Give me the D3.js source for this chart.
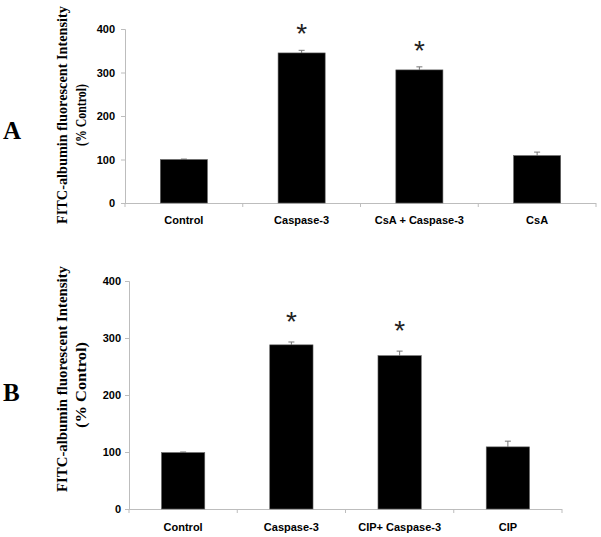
<!DOCTYPE html>
<html>
<head>
<meta charset="utf-8">
<script src="https://cdn.jsdelivr.net/npm/d3@7"></script>
<style>
  html, body { margin: 0; padding: 0; background: #fff; }
  svg { display: block; }
</style>
</head>
<body>
<svg id="chart" width="601" height="537"></svg>
<script>
// ---- Data ----
const categoriesA = ["Control", "Caspase-3", "CsA + Caspase-3", "CsA"];
const valuesA = [100, 345, 306, 109];
const errorsA = [1, 6, 7, 8];
const significantA = [false, true, true, false];

const categoriesB = ["Control", "Caspase-3", "CIP+ Caspase-3", "CIP"];
const valuesB = [99, 288, 269, 109];
const errorsB = [1, 5, 8, 10];
const significantB = [false, true, true, false];

const yTicks = [0, 100, 200, 300, 400];
const yLabelLine1 = "FITC-albumin fluorescent Intensity";
const yLabelLine2 = "(% Control)";

// ---- Drawing ----
const svg = d3.select("#chart");
const axisColor = "#bdbdbd";

function drawPanel(p) {
  const g = svg.append("g");
  const x = d3.scaleBand().domain(p.categories).range([p.x0, p.x1])
    .paddingInner(0.6).paddingOuter(0.3);
  const y = d3.scaleLinear().domain([0, 400]).range([p.y0, p.y1]);

  // y axis
  const yAxis = g.append("g").attr("transform", `translate(${p.x0},0)`)
    .call(d3.axisLeft(y).tickValues(yTicks).tickSize(4).tickPadding(p.tickPad));
  yAxis.select(".domain").attr("stroke", axisColor);
  yAxis.selectAll(".tick line").attr("stroke", axisColor);
  yAxis.selectAll(".tick text")
    .attr("fill", "#000")
    .style("font-family", "'Liberation Sans', Arial, sans-serif")
    .style("font-weight", "bold")
    .style("font-size", "11px");

  // x axis line + boundary ticks
  g.append("line").attr("x1", p.x0).attr("x2", p.x1)
    .attr("y1", p.y0 + 0.5).attr("y2", p.y0 + 0.5).attr("stroke", axisColor);
  const step = x.step();
  const bounds = d3.range(p.categories.length + 1).map(i => p.x0 + i * step);
  g.selectAll(".xb").data(bounds).join("line")
    .attr("x1", d => d).attr("x2", d => d)
    .attr("y1", p.y0).attr("y2", p.y0 + 4).attr("stroke", axisColor);

  // category labels
  g.selectAll(".cat").data(p.categories).join("text")
    .attr("x", d => x(d) + x.bandwidth() / 2)
    .attr("y", p.catY)
    .attr("text-anchor", "middle")
    .style("font-family", "'Liberation Sans', Arial, sans-serif")
    .style("font-weight", "bold")
    .style("font-size", "11px")
    .text(d => d);

  const data = p.categories.map((c, i) => ({ c, v: p.values[i], e: p.errors[i], s: p.sig[i] }));

  // error bars (upper half visible)
  const eg = g.selectAll(".err").data(data).join("g");
  eg.append("line")
    .attr("x1", d => x(d.c) + x.bandwidth() / 2).attr("x2", d => x(d.c) + x.bandwidth() / 2)
    .attr("y1", d => y(d.v)).attr("y2", d => y(d.v + d.e))
    .attr("stroke", "#777").attr("stroke-width", 1);
  eg.append("line")
    .attr("x1", d => x(d.c) + x.bandwidth() / 2 - 3).attr("x2", d => x(d.c) + x.bandwidth() / 2 + 3)
    .attr("y1", d => y(d.v + d.e)).attr("y2", d => y(d.v + d.e))
    .attr("stroke", "#777").attr("stroke-width", 1);

  // bars
  g.selectAll(".bar").data(data).join("rect")
    .attr("x", d => x(d.c))
    .attr("y", d => y(d.v))
    .attr("width", x.bandwidth())
    .attr("height", d => y(0) - y(d.v))
    .attr("fill", "#000")
    .attr("stroke", "#666").attr("stroke-width", 0.6);

  // asterisks
  g.selectAll(".ast").data(data.filter(d => d.s)).join("text")
    .attr("x", d => x(d.c) + x.bandwidth() / 2)
    .attr("y", d => y(d.v + d.e) - p.astGap)
    .attr("text-anchor", "middle")
    .style("font-family", "'Liberation Sans', Arial, sans-serif")
    .style("font-size", "28px")
    .attr("fill", "#222")
    .text("*");

  // y label (two lines, rotated)
  const lab = g.append("g").attr("transform", `translate(${p.labX},${p.labY}) rotate(-90)`);
  lab.append("text").attr("x", 0).attr("y", 0)
    .attr("text-anchor", "middle")
    .attr("textLength", p.lab1Len).attr("lengthAdjust", "spacingAndGlyphs")
    .style("font-family", "'Liberation Serif', 'Times New Roman', serif")
    .style("font-weight", "bold").style("font-size", "14px")
    .text(yLabelLine1);
  lab.append("text").attr("x", p.lab2Shift).attr("y", 19)
    .attr("text-anchor", "middle")
    .attr("textLength", p.lab2Len).attr("lengthAdjust", "spacingAndGlyphs")
    .style("font-family", "'Liberation Serif', 'Times New Roman', serif")
    .style("font-weight", "bold").style("font-size", "14px")
    .text(yLabelLine2);

  // panel letter
  g.append("text").attr("x", 3).attr("y", p.letterY)
    .style("font-family", "'Liberation Serif', 'Times New Roman', serif")
    .style("font-weight", "bold").style("font-size", "25px")
    .text(p.letter);
}

drawPanel({
  categories: categoriesA, values: valuesA, errors: errorsA, sig: significantA,
  x0: 125, x1: 596, y0: 203, y1: 29, tickPad: 6, catY: 224, astGap: 7,
  labX: 67, labY: 115, lab1Len: 218, lab2Len: 62, lab2Shift: 0,
  letter: "A", letterY: 139
});

drawPanel({
  categories: categoriesB, values: valuesB, errors: errorsB, sig: significantB,
  x0: 129, x1: 562, y0: 509, y1: 281, tickPad: 4, catY: 531, astGap: 11,
  labX: 67, labY: 379, lab1Len: 226, lab2Len: 86, lab2Shift: -6,
  letter: "B", letterY: 401
});
</script>
</body>
</html>
